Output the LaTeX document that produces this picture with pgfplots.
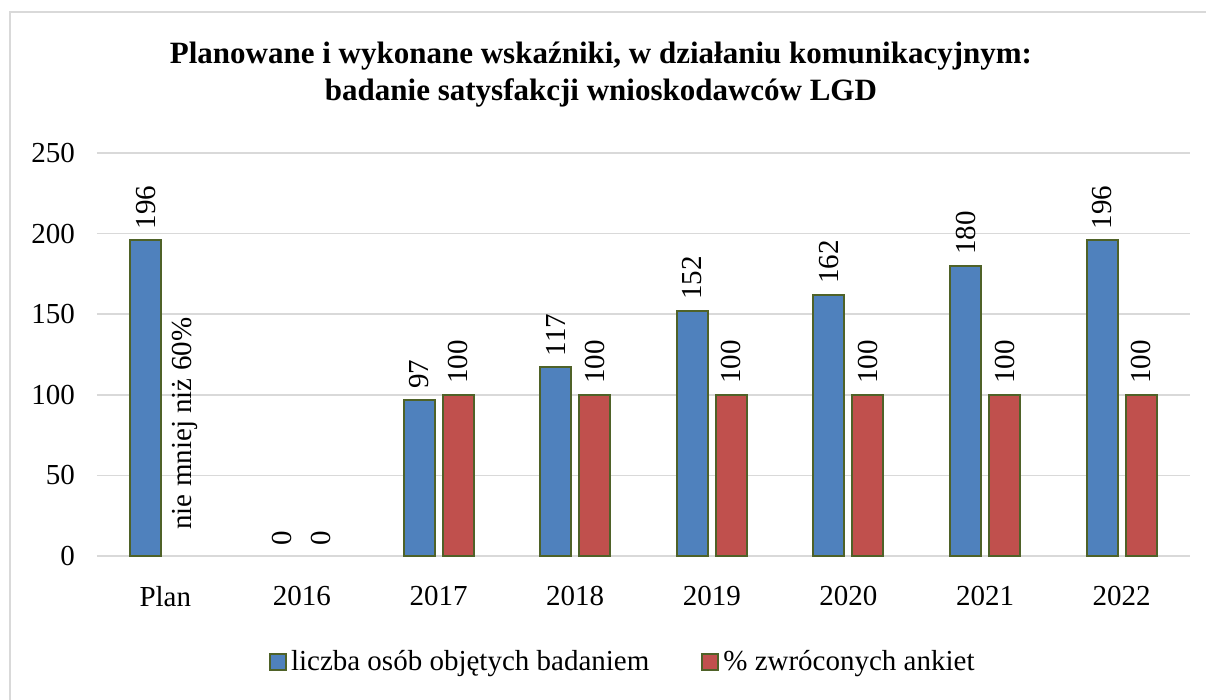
\documentclass[border=0pt]{standalone}
\usepackage{fontspec}
\setmainfont{Liberation Serif}
\usepackage{pgfplots}
\pgfplotsset{compat=1.18}
\definecolor{cblue}{HTML}{4F81BD}
\definecolor{cred}{HTML}{C0504D}
\definecolor{cedge}{HTML}{4F6228}
\definecolor{cgrid}{HTML}{D9D9D9}
\begin{document}
\begin{tikzpicture}
\useasboundingbox (0,0) rectangle (603pt,-350pt);
\draw[cgrid, line width=0.75pt] (5pt,-350pt) -- (5pt,-6pt) -- (603pt,-6pt);
\node[font=\bfseries\fontsize{15.5}{18.5}\selectfont, align=center] at (300.5pt,-37.5pt) {Planowane i wykonane wskaźniki, w działaniu komunikacyjnym:\\badanie satysfakcji wnioskodawców LGD};
\begin{axis}[
 at={(48.5pt,-278pt)}, anchor=south west,
 scale only axis, width=546.5pt, height=201.5pt,
 xmin=-0.5, xmax=7.5, ymin=0, ymax=250,
 xtick={0,...,7}, xticklabels={Plan,2016,2017,2018,2019,2020,2021,2022},
 ytick={0,50,...,250},
 ymajorgrids, grid style={cgrid, line width=0.75pt},
 axis line style={draw=none},
 major tick length=0pt,
 tick label style={font=\fontsize{14.5}{16}\selectfont},
 /pgf/number format/assume math mode=true,
 yticklabel style={xshift=-7.5pt},
 xticklabel style={yshift=-11.5pt},
 ybar, bar width=15.5pt,
 nodes near coords,
 point meta=explicit symbolic,
 every node near coord/.append style={rotate=90, anchor=west, inner ysep=0pt, inner xsep=5pt, font=\fontsize{14.5}{16}\selectfont, text=black},
 legend style={at={(0.482,-0.263)}, anchor=center, draw=none, font=\fontsize{14.5}{16}\selectfont, /tikz/every even column/.append style={column sep=24pt}},
 legend columns=2,
 legend image code/.code={\draw[#1, line width=1pt] (0pt,-4pt) rectangle (8pt,4pt);},
]
\addplot[fill=cblue, draw=cedge, line width=1pt, bar shift=-9.75pt] coordinates {(0,196)[196] (2,97)[97] (3,117)[117] (4,152)[152] (5,162)[162] (6,180)[180] (7,196)[196]};
\addlegendentry{liczba osób objętych badaniem}
\addplot[fill=cred, draw=cedge, line width=1pt, bar shift=9.75pt] coordinates {(2,100)[100] (3,100)[100] (4,100)[100] (5,100)[100] (6,100)[100] (7,100)[100]};
\addlegendentry{\% zwróconych ankiet}
\addplot[draw=none, fill=none, bar shift=-9.75pt, forget plot] coordinates {(1,0)[0]};
\addplot[draw=none, fill=none, bar shift=9.75pt, forget plot] coordinates {(1,0)[0]};
\addplot[draw=none, fill=none, bar shift=9.75pt, forget plot, every node near coord/.append style={inner xsep=13pt}] coordinates {(0,0)[nie mniej niż 60\%]};
\end{axis}
\end{tikzpicture}
\end{document}
